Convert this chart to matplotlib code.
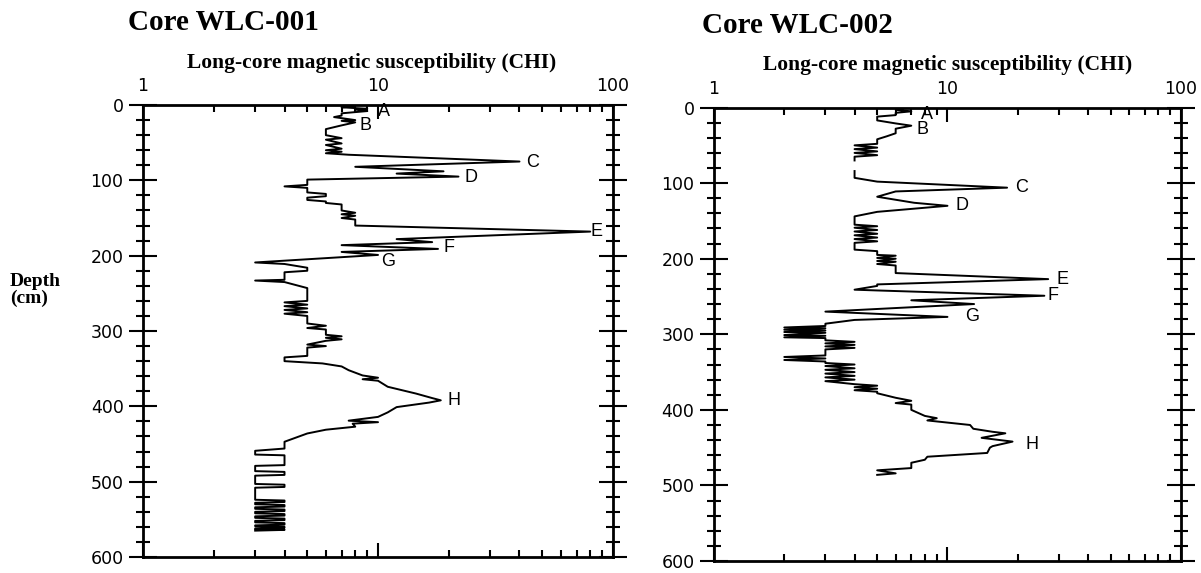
import numpy as np
import matplotlib
matplotlib.use("Agg")
import matplotlib.pyplot as plt
from matplotlib.ticker import FixedLocator, MultipleLocator, NullFormatter

# ---------- data: core WLC-001 (depth cm, CHI) ----------
depth_001 = [
    0, 2, 3, 5, 6, 8, 11, 14, 16, 20, 21, 23, 27, 32,
    38, 40, 44, 46, 51, 53, 58, 60, 62, 64, 66,
    75, 82, 88, 91, 95, 99, 106, 108, 110,
    116, 118, 121, 123, 126, 128, 130, 132, 136, 140, 143, 145, 147, 150, 152, 160,
    168, 178, 182, 186, 191, 195, 199, 209,
    211, 216, 220, 222, 232, 233, 235, 243, 260, 262,
    265, 267, 270, 272, 275, 277, 280, 284, 290, 293,
    296, 298, 300, 305, 307, 309, 311, 313, 318, 320,
    322, 325, 333, 335, 340,
    343, 347, 352, 359, 362, 364, 366, 374, 383, 389,
    392, 395, 401, 408, 414, 419, 421, 423, 427, 431,
    436, 447, 456,
    459, 464, 465, 478, 479, 486, 487, 491, 492, 503,
    504, 507, 508, 524, 525, 527, 528, 530, 531, 533,
    534, 536, 537, 539, 540, 542, 543, 545, 546, 548,
    549, 551, 552, 554, 555, 557, 558, 559, 560, 561,
    562, 563, 563.5, 564, 565,
]
chi_001 = [
    7, 8, 7, 9, 8, 9, 7, 7, 6.5, 8, 7, 8, 7, 6,
    6, 6, 7, 6, 7, 6, 7, 6, 7, 6, 7.5,
    40, 8, 19, 12, 22, 5, 5, 4, 5,
    5, 6, 6, 5, 5, 6, 6, 7, 7, 7, 8, 7, 8, 7, 8, 8,
    80, 12, 17, 7, 18, 7, 10, 3,
    4, 5, 5, 4, 4, 3, 4, 5, 5, 4,
    5, 4, 5, 4, 5, 4, 5, 5, 5, 6,
    5, 6, 6, 6, 7, 6, 7, 6, 5, 6,
    5, 5, 5, 4, 4,
    5.8, 7, 7.5, 8.6, 10, 8.6, 10, 11, 14.5, 17,
    18.5, 16.5, 12, 11, 10, 7.5, 10, 7.8, 8, 6,
    5, 4, 4,
    3, 3, 4, 4, 3, 3, 4, 4, 3, 3,
    4, 4, 3, 3, 4, 4, 3, 3, 4, 4,
    3, 3, 4, 4, 3, 3, 4, 4, 3, 3,
    4, 4, 3, 3, 4, 4, 3, 3, 4, 4,
    3, 3, 4, 4, 3,
]
labels_001 = ["A", "B", "C", "D", "E", "F", "G", "H"]
label_depth_001 = [5, 23, 75, 95, 168, 191, 199, 392]
label_offset_001 = [(8, -2), (3, -2), (5, -1), (4, -1), (0, 0), (4, 1), (2, -5), (5, 0)]

# ---------- data: core WLC-002 (gap of no data between 70 and 84 cm) ----------
depth_002 = [
    0, 1, 3, 5, 7, 10, 12, 17, 21, 24, 28, 34, 38, 42, 48,
    50, 53, 55, 58, 60, 63, 65, 70, 71,
    84, 93, 98, 106, 111, 118, 122, 126, 130, 138,
    144, 155, 157, 159, 162, 164, 167, 169, 172, 174,
    177, 179, 188, 190, 195, 196, 199, 200, 203, 204,
    207, 209, 215,
    219, 227, 234, 236, 241, 242, 249, 255, 260, 270, 277, 281, 286,
    289, 291, 292, 294, 295, 297, 298, 301, 302, 304,
    305, 308, 310, 312, 314, 316, 318, 320, 322, 328,
    330, 332, 334, 336, 338, 340, 342, 345, 347, 350,
    352, 355, 357, 360, 362,
    366, 368, 370, 372, 374, 376, 378, 384, 388, 391,
    393, 400, 408, 411, 414, 420, 425, 429, 431, 437,
    442, 448, 450, 457, 462, 466, 470, 477, 480, 484,
    486,
]
chi_002 = [
    5, 6.5, 6, 7, 6, 6, 5, 5, 6, 7, 6, 6, 5.5, 5, 5,
    4, 5, 4, 5, 4, 5, 4, 4, np.nan,
    4, 4, 5, 18, 6, 5, 6, 7.2, 10, 5,
    4, 4, 5, 4, 5, 4, 5, 4, 5, 4,
    5, 4, 4, 5, 5, 6, 5, 6, 5, 6,
    5, 6, 6,
    6, 27, 5, 5, 4, 5, 26, 7, 13, 3, 10, 4, 3,
    3, 2, 3, 2, 3, 2, 3, 2, 3, 2,
    3, 3, 4, 3, 4, 3, 4, 3, 3, 3,
    2, 3, 2, 3, 3, 4, 3, 4, 3, 4,
    3, 4, 3, 4, 3,
    4, 5, 4, 5, 4, 5, 5, 6, 7, 6,
    7, 7, 8, 9, 8.2, 12.5, 12.9, 15.6, 17.7, 14,
    19, 15.6, 15.2, 14.8, 8.2, 8, 7, 7, 5, 6,
    5,
]
labels_002 = ["A", "B", "C", "D", "E", "F", "G", "H"]
label_depth_002 = [5, 24, 106, 130, 227, 249, 277, 442]
label_offset_002 = [(7, -2), (4, -3), (6, 0), (6, 0), (6, 0), (2, 0), (13, 0), (9, -2)]

titles = ["Core WLC-001", "Core WLC-002"]
x_title = "Long-core magnetic susceptibility (CHI)"

SERIF = ["Liberation Serif", "DejaVu Serif"]
SANS = ["Liberation Sans", "DejaVu Sans"]


def style_axis(ax):
    ax.set_xscale("log")
    ax.set_xlim(1, 100)
    ax.set_ylim(600, 0)

    ax.xaxis.set_major_locator(FixedLocator([1, 10, 100]))
    ax.set_xticklabels(["1", "10", "100"])
    minors = [m * 10 ** e for e in (0, 1) for m in range(2, 10)]
    ax.xaxis.set_minor_locator(FixedLocator(minors))
    ax.xaxis.set_minor_formatter(NullFormatter())
    ax.tick_params(axis="x", which="both", direction="in", top=True, bottom=True,
                   labeltop=True, labelbottom=False, width=1.5, pad=7)
    ax.tick_params(axis="x", which="major", length=10, labelsize=12.5)
    ax.tick_params(axis="x", which="minor", length=5)

    ax.set_yticks(range(0, 601, 100))
    ax.yaxis.set_minor_locator(MultipleLocator(20))
    ax.tick_params(axis="y", which="both", direction="inout", left=True, right=True,
                   width=1.5, labelsize=12.5)
    ax.tick_params(axis="y", which="major", length=20, pad=4)
    ax.tick_params(axis="y", which="minor", length=10)

    for sp in ax.spines.values():
        sp.set_linewidth(2)


fig = plt.figure(figsize=(12.01, 5.73), dpi=100)
ax1 = fig.add_axes([0.1191, 0.0279, 0.3913, 0.7888])
ax2 = fig.add_axes([0.5945, 0.0209, 0.3888, 0.7914])

cores = [
    (ax1, depth_001, chi_001, labels_001, label_depth_001, label_offset_001),
    (ax2, depth_002, chi_002, labels_002, label_depth_002, label_offset_002),
]

for ax, d, v, labs, ldep, loff in cores:
    ax.plot(v, d, color="black", linewidth=1.4)
    style_axis(ax)
    dd = np.array(d, dtype=float)
    vv = np.array(v, dtype=float)
    ok = ~np.isnan(vv)
    for lab, ld, off in zip(labs, ldep, loff):
        lv = np.interp(ld, dd[ok], vv[ok])
        ax.annotate(lab, xy=(lv, ld), xytext=off, textcoords="offset points",
                    ha="left", va="center", fontsize=13, family=SANS)
    for t in ax.get_xticklabels() + ax.get_yticklabels():
        t.set_family(["DejaVu Sans"])

# titles and axis titles
fig.text(128 / 1201, 1 - 30 / 573, titles[0], fontsize=21, fontweight="bold",
         family=SERIF, ha="left", va="baseline")
fig.text(702 / 1201, 1 - 33 / 573, titles[1], fontsize=21, fontweight="bold",
         family=SERIF, ha="left", va="baseline")
fig.text(372 / 1201, 1 - 68 / 573, x_title, fontsize=15.5, fontweight="bold",
         family=SERIF, ha="center", va="baseline")
fig.text(948 / 1201, 1 - 70 / 573, x_title, fontsize=15.5, fontweight="bold",
         family=SERIF, ha="center", va="baseline")
fig.text(10 / 1201, 1 - 290 / 573, "Depth\n(cm)", fontsize=14, fontweight="bold",
         family=SERIF, ha="left", va="center", linespacing=1.0)

fig.savefig("out.png", dpi=100)
